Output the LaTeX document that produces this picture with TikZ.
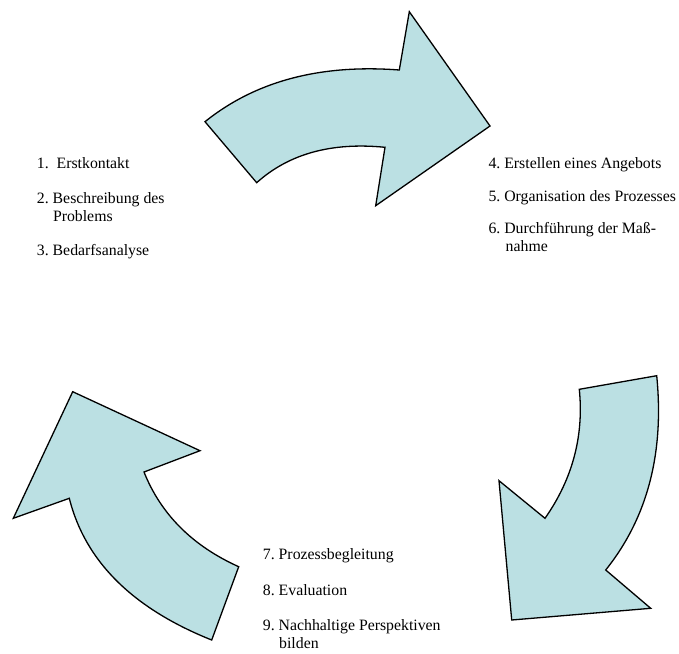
\documentclass[tikz,border=0pt]{standalone}
\usepackage{fontspec}
\setmainfont{Liberation Serif}
\definecolor{arrowfill}{RGB}{187,224,227}
\begin{document}
\begin{tikzpicture}[x=1pt,y=-1pt,
  bigarrow/.style={draw=black,fill=arrowfill,line width=1.3pt,line join=miter},
  item/.style={anchor=base west,inner sep=0pt,font=\fontsize{15.8}{18}\selectfont}]
\path[use as bounding box] (0,0) rectangle (679,653);
% top arrow
\path[bigarrow] (205,121.7) .. controls (255.7,81.0) and (320.4,64.0) .. (399.3,70)
  -- (409.3,11.7) -- (490,126) -- (375.7,205.7) -- (385,147.3)
  .. controls (331.7,142) and (288.9,153.7) .. (256.7,182.7) -- cycle;
% right arrow
\path[bigarrow] (656.7,375.7) -- (579.3,389.3) .. controls (584,436) and (572.5,479) .. (545,518.3)
  -- (499,480.7) -- (511.7,620) -- (650.7,608.3) -- (605.7,570)
  .. controls (647.4,517.9) and (664.4,453.1) .. (656.7,375.7) -- cycle;
% left arrow
\path[bigarrow] (72.7,391.7) -- (200,450.7) -- (144,472)
  .. controls (160.9,514.3) and (192.5,545.9) .. (238.7,566.7) -- (211.7,640)
  .. controls (132.4,608.3) and (85,561) .. (69.3,498.3) -- (13.3,518.3) -- cycle;
% left texts
\node[item] (t1) at (36.7,168.3) {1.\ \ Erstkontakt};
\node[item] (t2) at (36.7,203.3) {2.\ Beschreibung des};
\node[item] (t2b) at (52.8,221.5) {Problems};
\node[item] (t3) at (36.7,255) {3.\ Bedarfsanalyse};
% right texts
\node[item] (t4) at (488.3,168.3) {4.\ Erstellen eines Angebots};
\node[item] (t5) at (488.3,201.5) {5.\ Organisation des Prozesses};
\node[item] (t6) at (488.3,233.3) {6.\ Durchführung der Maß-};
\node[item] (t6b) at (505.5,251.5) {nahme};
% bottom texts
\node[item] (t7) at (262.7,559.3) {7.\ Prozessbegleitung};
\node[item] (t8) at (262.7,595) {8.\ Evaluation};
\node[item] (t9) at (262.7,630) {9.\ Nachhaltige Perspektiven};
\node[item] (t9b) at (279,648.3) {bilden};
\end{tikzpicture}
\end{document}
